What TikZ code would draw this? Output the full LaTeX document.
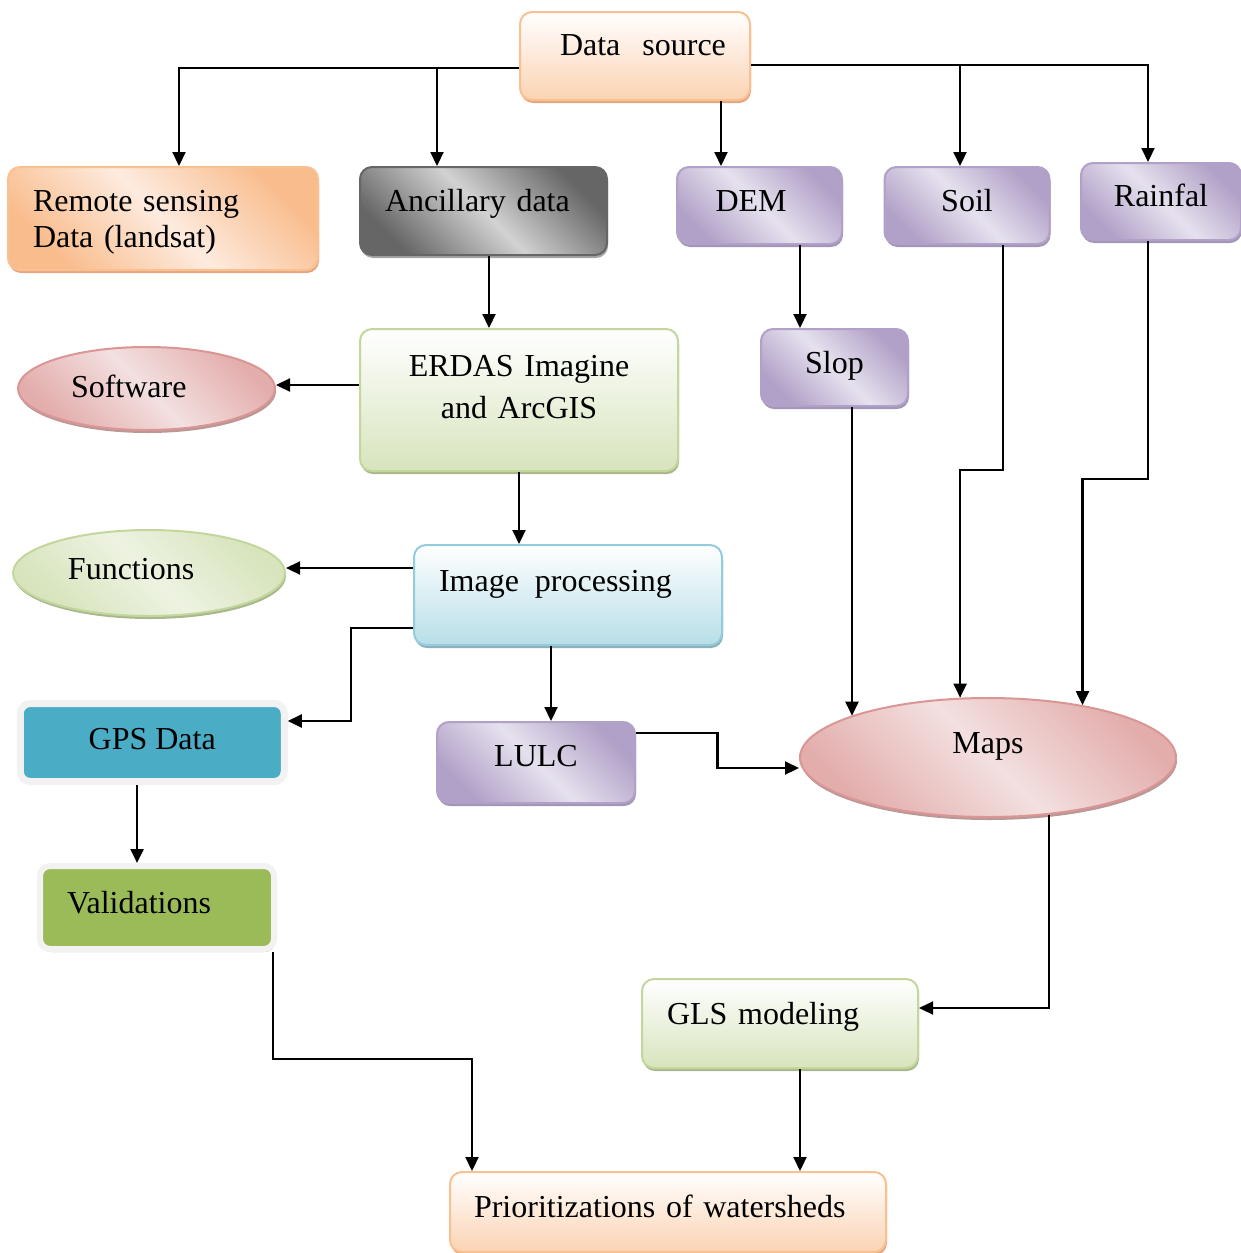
\documentclass[tikz,border=0pt]{standalone}
\usepackage{fontspec}
\setmainfont{Liberation Serif}
\usetikzlibrary{arrows.meta,shapes.geometric,shadows,calc}

\definecolor{orgB}{HTML}{FAC090}
\definecolor{orgD}{HTML}{F9BC8C}
\definecolor{orgM}{HTML}{FBD3B3}
\definecolor{orgL}{HTML}{FDEBDF}
\definecolor{orgS}{HTML}{E3A780}
\definecolor{purD}{HTML}{B1A0C7}
\definecolor{purL}{HTML}{E6E1EE}
\definecolor{purS}{HTML}{A395B5}
\definecolor{gryD}{HTML}{666666}
\definecolor{gryL}{HTML}{D2D2D2}
\definecolor{gryS}{HTML}{A6A6A6}
\definecolor{grnB}{HTML}{C3D69B}
\definecolor{grnM}{HTML}{D7E4BD}
\definecolor{grnL}{HTML}{EDF3E1}
\definecolor{grnS}{HTML}{A8B88C}
\definecolor{bluB}{HTML}{93CDDD}
\definecolor{bluM}{HTML}{B7DEE8}
\definecolor{bluS}{HTML}{8FAFB9}
\definecolor{redB}{HTML}{D99694}
\definecolor{redD}{HTML}{E3ADAC}
\definecolor{redL}{HTML}{F3E0E0}
\definecolor{redS}{HTML}{B99897}
\definecolor{gpsF}{HTML}{4BACC6}
\definecolor{gpsS}{HTML}{9CB3BD}
\definecolor{valF}{HTML}{9BBB59}
\definecolor{valS}{HTML}{B2BEA0}
\definecolor{frmW}{HTML}{F2F2F2}

\tikzstyle{every node}=[font=\fontsize{16}{19}\selectfont,text height=11pt,text depth=0pt,inner ysep=0pt,inner xsep=12.5pt]
\tikzstyle{box}=[rectangle,rounded corners=6pt,line width=1pt]
\tikzstyle{orangebox}=[box,draw=orgB,top color=white,bottom color=orgM,drop shadow={shadow xshift=0.5pt,shadow yshift=-1.5pt,fill=orgS,opacity=1}]
\tikzstyle{sensebox}=[box,draw=orgB,top color=orgD,bottom color=orgD,middle color=orgL,shading angle=-45,drop shadow={shadow xshift=0.5pt,shadow yshift=-1.5pt,fill=orgS,opacity=1}]
\tikzstyle{greybox}=[box,draw=gryD,top color=gryD,bottom color=gryD,middle color=gryL,shading angle=-45,drop shadow={shadow xshift=0.5pt,shadow yshift=-1.5pt,fill=gryS,opacity=1}]
\tikzstyle{purplebox}=[box,draw=purD,top color=purD,bottom color=purD,middle color=purL,shading angle=-45,drop shadow={shadow xshift=0.5pt,shadow yshift=-1.5pt,fill=purS,opacity=1}]
\tikzstyle{greenbox}=[box,draw=grnB,top color=white,bottom color=grnM,drop shadow={shadow xshift=0.5pt,shadow yshift=-1.5pt,fill=grnS,opacity=1}]
\tikzstyle{bluebox}=[box,draw=bluB,top color=white,bottom color=bluM,drop shadow={shadow xshift=0.5pt,shadow yshift=-1.5pt,fill=bluS,opacity=1}]
\tikzstyle{pinkoval}=[ellipse,line width=1pt,draw=redB,top color=redD,bottom color=redD,middle color=redL,shading angle=-45,drop shadow={shadow xshift=0.5pt,shadow yshift=-1.5pt,fill=redS,opacity=1}]
\tikzstyle{greenoval}=[ellipse,line width=1pt,draw=grnB,top color=grnM,bottom color=grnM,middle color=grnL,shading angle=-45,drop shadow={shadow xshift=0.5pt,shadow yshift=-1.5pt,fill=grnS,opacity=1}]
\tikzstyle{gpsbox}=[rectangle,rounded corners=5pt,line width=3.5pt,draw=frmW,fill=gpsF,drop shadow={shadow xshift=0.5pt,shadow yshift=-1.5pt,fill=gpsS,opacity=1}]
\tikzstyle{validbox}=[rectangle,rounded corners=5pt,line width=3pt,draw=frmW,fill=valF,drop shadow={shadow xshift=0.5pt,shadow yshift=-1.5pt,fill=valS,opacity=1}]

\begin{document}
\begin{tikzpicture}[x=0.5pt,y=-0.5pt,line width=1.1pt,>={Triangle[length=7pt,width=6.5pt]}]
	\useasboundingbox (0,0) rectangle (1241,1253);

	\node[orangebox,minimum width=115pt,minimum height=44pt,text width=95pt,inner xsep=10pt,align=left,text depth=12pt] (src) at (635,56) {\hspace*{10pt}Data\hspace{11pt}source};
	\node[sensebox,minimum width=155pt,minimum height=51.5pt,text width=130pt,align=left,text depth=18pt] (rs) at (163,218.5) {Remote sensing\\[-1pt]Data (landsat)};
	\node[greybox,minimum width=123.5pt,minimum height=44pt,text width=98.5pt,align=left,text depth=11pt] (anc) at (483.5,211) {Ancillary data};
	\node[purplebox,minimum width=82.5pt,minimum height=38.5pt,text width=44pt,inner xsep=19.25pt,align=left,text depth=5.5pt] (dem) at (759.5,205.5) {DEM};
	\node[purplebox,minimum width=82.5pt,minimum height=38.5pt,text depth=5.5pt] (soil) at (967,205.5) {Soil};
	\node[purplebox,minimum width=80pt,minimum height=38.5pt,text depth=6.5pt] (rain) at (1161,201.5) {Rainfal};
	\node[greenbox,minimum width=159pt,minimum height=71pt,text width=134pt,align=center,text depth=35pt] (erdas) at (519,400) {ERDAS Imagine\\[2pt]and ArcGIS};
	\node[pinkoval,minimum width=128.5pt,minimum height=41.5pt,text width=75.5pt,align=left,text depth=2.5pt,inner sep=0pt] (soft) at (146.5,388.5) {Software};
	\node[purplebox,minimum width=73.5pt,minimum height=38.5pt,text depth=5.5pt] (slop) at (834.5,367.5) {Slop};
	\node[greenoval,minimum width=136pt,minimum height=43pt,text width=81pt,align=left,text depth=5pt,inner sep=0pt] (func) at (149,573) {Functions};
	\node[bluebox,minimum width=154pt,minimum height=50pt,text width=129pt,align=left,text depth=15pt] (imgp) at (568,595) {Image\hspace{8pt}processing};
	\node[gpsbox,minimum width=132pt,minimum height=39pt,text depth=4.5pt] (gps) at (152.25,742.5) {GPS Data};
	\node[purplebox,minimum width=99pt,minimum height=40.5pt,text depth=7.5pt] (lulc) at (536,762.5) {LULC};
	\node[pinkoval,minimum width=188pt,minimum height=59.5pt,text depth=15.5pt,inner sep=0pt] (maps) at (988,757.5) {Maps};
	\node[validbox,minimum width=117pt,minimum height=41.5pt,text width=90pt,align=left,inner xsep=13.5pt,text depth=5.5pt] (valid) at (157,907.5) {Validations};
	\node[greenbox,minimum width=138pt,minimum height=44.5pt,text width=113pt,align=left,text depth=10.5pt] (gls) at (780,1023.5) {GLS modeling};
	\node[orangebox,minimum width=218pt,minimum height=40pt,text width=194pt,align=left,inner xsep=12pt,text depth=6pt] (prio) at (668,1212) {Prioritizations of watersheds};

	\draw[->] ([yshift=-6pt]src.west) -| ([xshift=8pt]rs.north);
	\draw[->] ([yshift=-6pt]src.west) -| ([xshift=-23.25pt]anc.north);
	\draw[->] ([xshift=43pt]src.south) -- ([xshift=43pt]src.south |- dem.north);
	\draw[->] ([yshift=-4.5pt]src.east) -| ([xshift=-6.5pt]rain.north);
	\draw[->] ([yshift=-4.5pt]src.east) -| ([xshift=-3.5pt]soil.north);
	\draw[->] ([xshift=2.75pt]anc.south) -- ([xshift=2.75pt]anc.south |- erdas.north);
	\draw[->] ([xshift=20.25pt]dem.south) -- ([xshift=20.25pt]dem.south |- slop.north);
	\draw[->] ([yshift=7.5pt]erdas.west) -- ([yshift=7.5pt]erdas.west -| soft.east);
	\draw[->] (erdas.south) -- (erdas.south |- imgp.north);
	\draw[->] ([yshift=13.5pt]imgp.west) -- ([yshift=13.5pt]imgp.west -| func.east);
	\draw[->] ([yshift=-16.5pt]imgp.west) -- ++(-62,0) |- ([yshift=10.75pt]gps.east);
	\draw[->] ([xshift=-8.5pt]imgp.south) -- ([xshift=-8.5pt]imgp.south |- lulc.north);
	\draw[->] ([yshift=14.75pt]lulc.east) -| ($(lulc.east)!.5!(maps.west)$) |- ([yshift=-5.25pt]maps.west);
	\draw[->] ([xshift=8.75pt]slop.south) -- ([xshift=8.75pt]slop.south |- maps.163);
	\draw[->] ([xshift=18pt]soil.south) -- ++(0,225) -| (maps.115);
	\draw[->] ([xshift=-6.5pt]rain.south) -- ++(0,238) -| (maps.29);
	\draw[->] (maps.-43) |- ([yshift=7.75pt]gls.east);
	\draw[->] ([xshift=-7.6pt]gps.south) -- ([xshift=-7.6pt]gps.south |- valid.north);
	\draw[->] ([xshift=-2pt]valid.south east) -- ++(0,107) -| ([xshift=-98pt]prio.north);
	\draw[->] ([xshift=10pt]gls.south) -- ([xshift=10pt]gls.south |- prio.north);
\end{tikzpicture}
\end{document}
